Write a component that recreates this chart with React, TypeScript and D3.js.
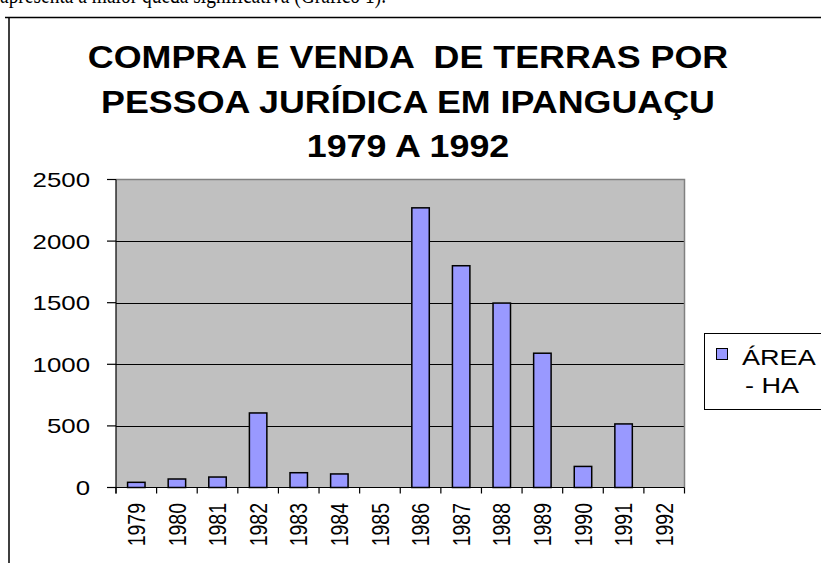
import { useEffect, useRef } from "react";
import * as d3 from "d3";

const years = [
  "1979", "1980", "1981", "1982", "1983", "1984", "1985",
  "1986", "1987", "1988", "1989", "1990", "1991", "1992",
];
const areaHa = [42, 69, 85, 605, 120, 110, 0, 2270, 1800, 1497, 1090, 171, 516, 0];
const yTicks = [0, 500, 1000, 1500, 2000, 2500];
const titleLines = [
  "COMPRA E VENDA  DE TERRAS POR",
  "PESSOA JURÍDICA EM IPANGUAÇU",
  "1979 A 1992",
];
const legendLines = ["ÁREA", "- HA"];

const W = 821;
const H = 563;
// the scanned chart is stretched horizontally
const SX = 1.23;
const FONT = "'Liberation Sans', Arial, sans-serif";

const App = () => {
  const svgRef = useRef<SVGSVGElement>(null);

  useEffect(() => {
    if (!svgRef.current) return;
    const svg = d3.select(svgRef.current);
    svg.selectAll("*").remove();

    const plot = { left: 116, right: 684.5, top: 179.5, bottom: 487.5 };

    const x = d3
      .scaleBand<string>()
      .domain(years)
      .range([plot.left, plot.right])
      .padding(0);
    const y = d3
      .scaleLinear()
      .domain([0, 2500])
      .range([plot.bottom, plot.top]);

    // cropped line of the document text above the chart
    svg
      .append("text")
      .attr("x", 0)
      .attr("y", 3)
      .attr("font-family", "'Liberation Serif', 'Times New Roman', serif")
      .attr("font-size", 26)
      .attr("textLength", 386)
      .attr("lengthAdjust", "spacingAndGlyphs")
      .text("apresenta a maior queda significativa (Gráfico 1).");

    // chart frame
    svg
      .append("path")
      .attr("d", `M5,17.5 H${W + 5} M9,17.5 V${H + 5}`)
      .attr("stroke", "#000")
      .attr("stroke-width", 1.5)
      .attr("fill", "none");

    // title
    titleLines.forEach((line, i) => {
      svg
        .append("g")
        .attr("transform", `translate(408,${68 + i * 44.5}) scale(1.12,1)`)
        .append("text")
        .attr("text-anchor", "middle")
        .attr("font-family", FONT)
        .attr("font-weight", "bold")
        .attr("font-size", 32)
        .style("white-space", "pre")
        .text(line);
    });

    // plot background
    svg
      .append("rect")
      .attr("x", plot.left)
      .attr("y", plot.top)
      .attr("width", plot.right - plot.left)
      .attr("height", plot.bottom - plot.top)
      .attr("fill", "#c0c0c0");

    // gridlines
    svg
      .append("g")
      .selectAll("line")
      .data(yTicks.filter((t) => t > 0 && t < 2500))
      .join("line")
      .attr("x1", plot.left)
      .attr("x2", plot.right)
      .attr("y1", (d) => Math.round(y(d)) + 0.5)
      .attr("y2", (d) => Math.round(y(d)) + 0.5)
      .attr("stroke", "#000")
      .attr("stroke-width", 1);

    // grey top / right border
    svg
      .append("path")
      .attr("d", `M${plot.left},${plot.top} H${plot.right} V${plot.bottom}`)
      .attr("stroke", "#808080")
      .attr("stroke-width", 1.5)
      .attr("fill", "none");

    // bars
    const bw = x.bandwidth() * 0.43;
    svg
      .append("g")
      .selectAll("rect")
      .data(areaHa.map((v, i) => ({ year: years[i], v })).filter((d) => d.v > 0))
      .join("rect")
      .attr("x", (d) => (x(d.year) || 0) + (x.bandwidth() - bw) / 2)
      .attr("y", (d) => y(d.v))
      .attr("width", bw)
      .attr("height", (d) => y(0) - y(d.v))
      .attr("fill", "#9999ff")
      .attr("stroke", "#000")
      .attr("stroke-width", 1.5);

    // y axis
    const ya = svg.append("g");
    ya.append("line")
      .attr("x1", plot.left)
      .attr("x2", plot.left)
      .attr("y1", plot.top)
      .attr("y2", plot.bottom + 6)
      .attr("stroke", "#000")
      .attr("stroke-width", 1.2);
    yTicks.forEach((t) => {
      ya.append("line")
        .attr("x1", plot.left - 9)
        .attr("x2", plot.left)
        .attr("y1", y(t))
        .attr("y2", y(t))
        .attr("stroke", "#000")
        .attr("stroke-width", 1.2);
      ya.append("g")
        .attr("transform", `translate(90,${y(t) + 7.5}) scale(${SX},1)`)
        .append("text")
        .attr("text-anchor", "end")
        .attr("font-family", FONT)
        .attr("font-size", 21)
        .text(t);
    });

    // x axis
    const xa = svg.append("g");
    xa.append("line")
      .attr("x1", plot.left - 9)
      .attr("x2", plot.right)
      .attr("y1", plot.bottom)
      .attr("y2", plot.bottom)
      .attr("stroke", "#000")
      .attr("stroke-width", 1.2);
    years.concat(["end"]).forEach((yr, i) => {
      const bx = i < years.length ? x(yr) || 0 : plot.right;
      xa.append("line")
        .attr("x1", bx)
        .attr("x2", bx)
        .attr("y1", plot.bottom)
        .attr("y2", plot.bottom + 6)
        .attr("stroke", "#000")
        .attr("stroke-width", 1.2);
    });
    years.forEach((yr) => {
      const cx = (x(yr) || 0) + x.bandwidth() / 2;
      xa.append("g")
        .attr("transform", `translate(${cx},503) scale(${SX},1) rotate(-90)`)
        .append("text")
        .attr("text-anchor", "end")
        .attr("dy", "0.36em")
        .attr("font-family", FONT)
        .attr("font-size", 19.5)
        .text(yr);
    });

    // legend
    const lg = svg.append("g");
    lg.append("rect")
      .attr("x", 704.5)
      .attr("y", 333.5)
      .attr("width", 140)
      .attr("height", 76)
      .attr("fill", "#fff")
      .attr("stroke", "#000")
      .attr("stroke-width", 1);
    lg.append("rect")
      .attr("x", 716.5)
      .attr("y", 348.5)
      .attr("width", 11)
      .attr("height", 11)
      .attr("fill", "#9999ff")
      .attr("stroke", "#000")
      .attr("stroke-width", 1);
    lg.append("g")
      .attr("transform", `translate(742,365) scale(${SX},1)`)
      .append("text")
      .attr("font-family", FONT)
      .attr("font-size", 22)
      .text(legendLines[0]);
    lg.append("g")
      .attr("transform", `translate(745,393) scale(${SX},1)`)
      .append("text")
      .attr("font-family", FONT)
      .attr("font-size", 22)
      .text(legendLines[1]);
  }, []);

  return (
    <svg
      ref={svgRef}
      width={W}
      height={H}
      style={{ position: "absolute", left: 0, top: 0, background: "#fff" }}
    />
  );
};

export default App;
